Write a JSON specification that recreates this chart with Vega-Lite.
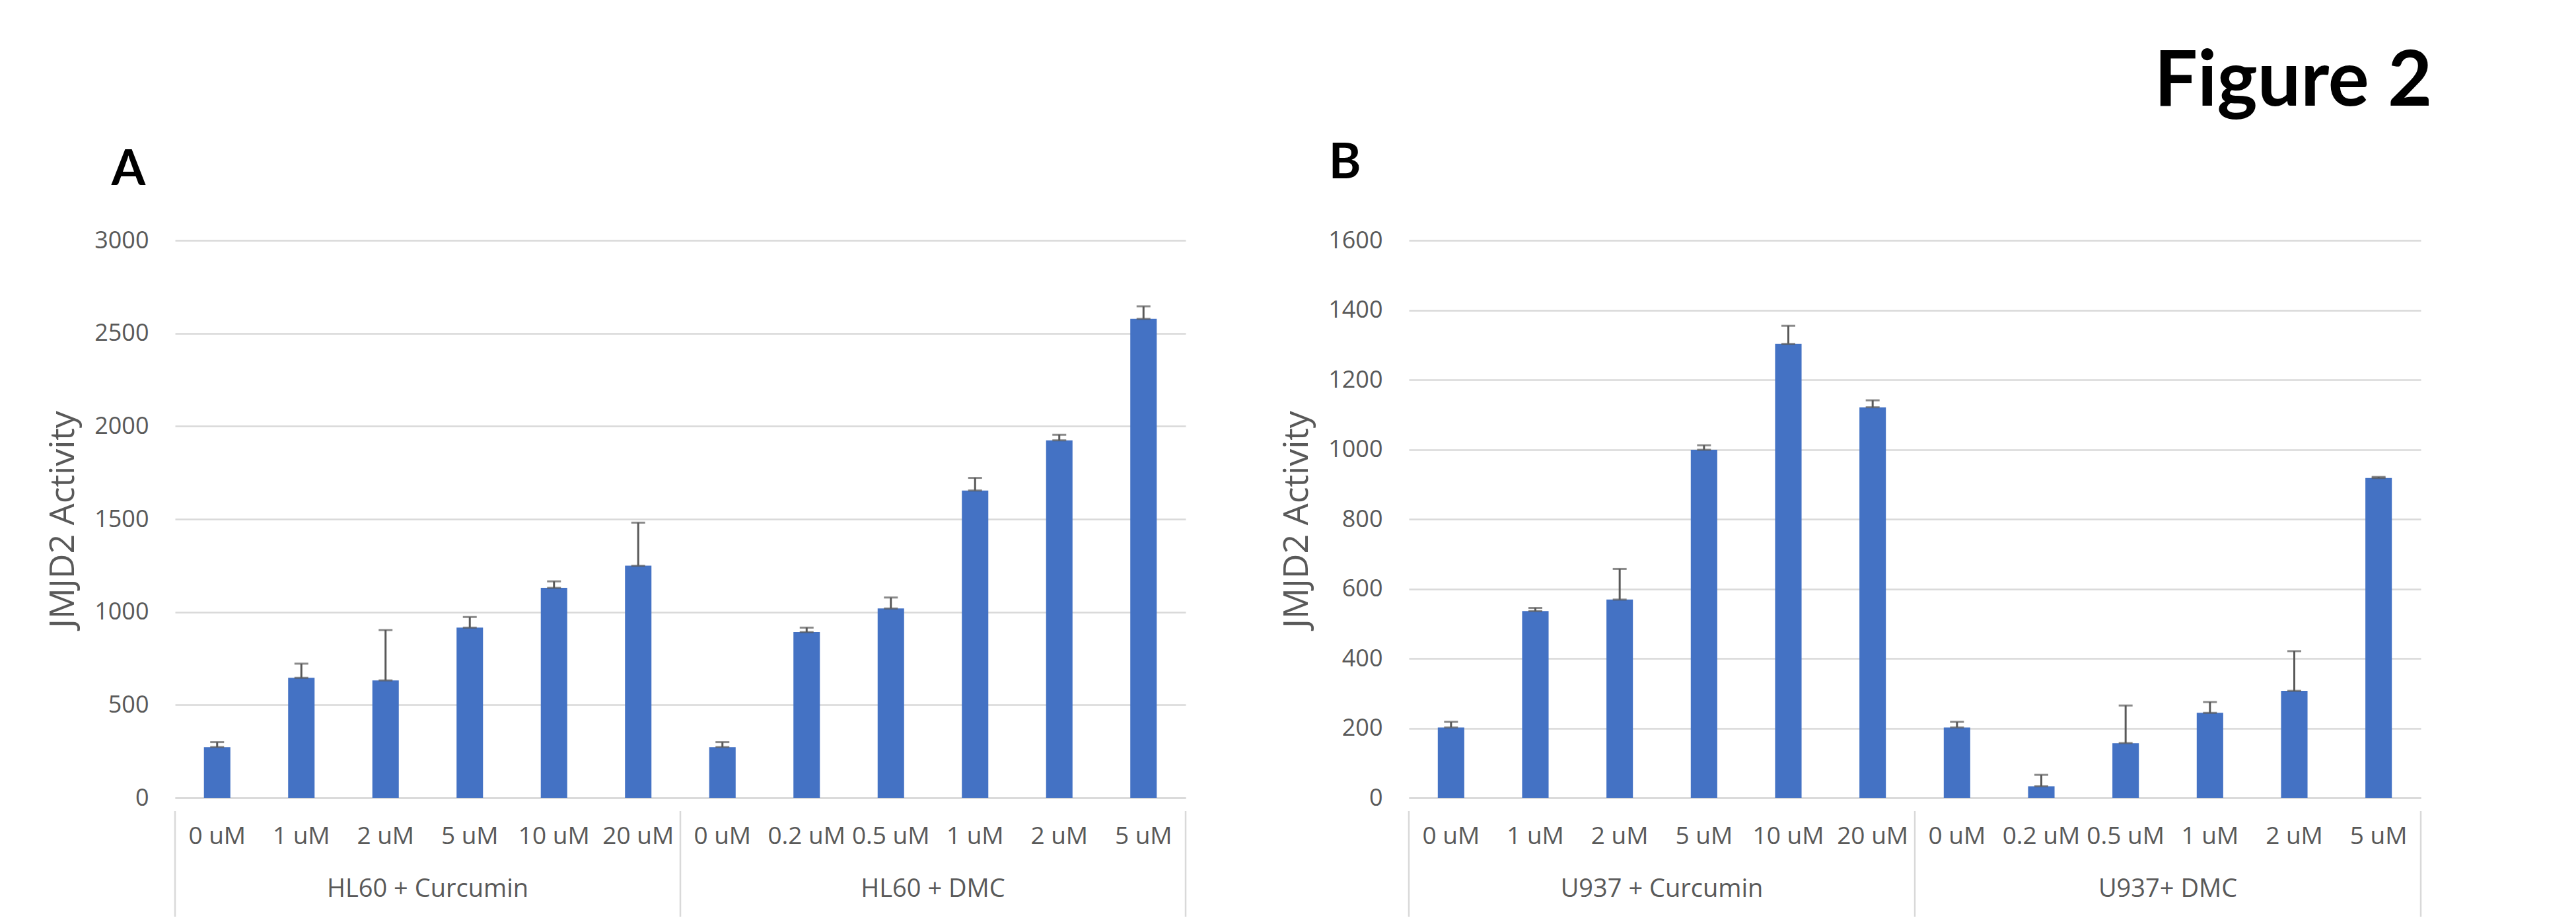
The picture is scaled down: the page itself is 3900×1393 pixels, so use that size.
{
  "$schema": "https://vega.github.io/schema/vega-lite/v6.json",
  "background": "white",
  "padding": {"left": 69, "top": 67, "right": 0, "bottom": 0},
  "title": {"text": "Figure 2", "anchor": "end", "frame": "bounds", "font": "Lato", "fontWeight": "bold", "fontSize": 116, "color": "#000000", "dx": 16, "offset": 27},
  "datasets": {
    "A": [
      {"group": "HL60 + Curcumin", "conc": "0 uM", "key": "HL60 + Curcumin|0 uM", "value": 273, "upper": 300},
      {"group": "HL60 + Curcumin", "conc": "1 uM", "key": "HL60 + Curcumin|1 uM", "value": 646, "upper": 722},
      {"group": "HL60 + Curcumin", "conc": "2 uM", "key": "HL60 + Curcumin|2 uM", "value": 632, "upper": 903},
      {"group": "HL60 + Curcumin", "conc": "5 uM", "key": "HL60 + Curcumin|5 uM", "value": 916, "upper": 973},
      {"group": "HL60 + Curcumin", "conc": "10 uM", "key": "HL60 + Curcumin|10 uM", "value": 1130, "upper": 1165},
      {"group": "HL60 + Curcumin", "conc": "20 uM", "key": "HL60 + Curcumin|20 uM", "value": 1249, "upper": 1481},
      {"group": "HL60 + DMC", "conc": "0 uM", "key": "HL60 + DMC|0 uM", "value": 273, "upper": 300},
      {"group": "HL60 + DMC", "conc": "0.2 uM", "key": "HL60 + DMC|0.2 uM", "value": 892, "upper": 916},
      {"group": "HL60 + DMC", "conc": "0.5 uM", "key": "HL60 + DMC|0.5 uM", "value": 1019, "upper": 1078},
      {"group": "HL60 + DMC", "conc": "1 uM", "key": "HL60 + DMC|1 uM", "value": 1654, "upper": 1722},
      {"group": "HL60 + DMC", "conc": "2 uM", "key": "HL60 + DMC|2 uM", "value": 1924, "upper": 1954},
      {"group": "HL60 + DMC", "conc": "5 uM", "key": "HL60 + DMC|5 uM", "value": 2578, "upper": 2645}
    ],
    "B": [
      {"group": "U937 + Curcumin", "conc": "0 uM", "key": "U937 + Curcumin|0 uM", "value": 202, "upper": 218},
      {"group": "U937 + Curcumin", "conc": "1 uM", "key": "U937 + Curcumin|1 uM", "value": 536, "upper": 545},
      {"group": "U937 + Curcumin", "conc": "2 uM", "key": "U937 + Curcumin|2 uM", "value": 569, "upper": 657},
      {"group": "U937 + Curcumin", "conc": "5 uM", "key": "U937 + Curcumin|5 uM", "value": 999, "upper": 1012},
      {"group": "U937 + Curcumin", "conc": "10 uM", "key": "U937 + Curcumin|10 uM", "value": 1303, "upper": 1355},
      {"group": "U937 + Curcumin", "conc": "20 uM", "key": "U937 + Curcumin|20 uM", "value": 1121, "upper": 1141},
      {"group": "U937+ DMC", "conc": "0 uM", "key": "U937+ DMC|0 uM", "value": 202, "upper": 218},
      {"group": "U937+ DMC", "conc": "0.2 uM", "key": "U937+ DMC|0.2 uM", "value": 33, "upper": 66},
      {"group": "U937+ DMC", "conc": "0.5 uM", "key": "U937+ DMC|0.5 uM", "value": 157, "upper": 265},
      {"group": "U937+ DMC", "conc": "1 uM", "key": "U937+ DMC|1 uM", "value": 244, "upper": 275},
      {"group": "U937+ DMC", "conc": "2 uM", "key": "U937+ DMC|2 uM", "value": 307, "upper": 421},
      {"group": "U937+ DMC", "conc": "5 uM", "key": "U937+ DMC|5 uM", "value": 918, "upper": 921}
    ],
    "gA": [
      {"group": "HL60 + Curcumin"},
      {"group": "HL60 + DMC"}
    ],
    "gB": [
      {"group": "U937 + Curcumin"},
      {"group": "U937+ DMC"}
    ]
  },
  "hconcat": [
    {
      "spacing": 0,
      "vconcat": [
        {
          "title": {"text": "A", "anchor": "start", "frame": "bounds", "font": "Lato", "fontWeight": "bold", "fontSize": 74, "color": "#000000", "dx": 99, "offset": 50},
          "width": 1530,
          "height": 844,
          "data": {"name": "A"},
          "encoding": {
            "x": {"field": "key", "type": "nominal", "sort": null, "scale": {"paddingInner": 0.686, "paddingOuter": 0.343}, "axis": {"labels": false, "ticks": false, "title": null, "domainColor": "#D9D9D9", "domainWidth": 2.5}}
          },
          "layer": [
            {
              "mark": {"type": "bar", "color": "#4472C4"},
              "encoding": {
                "y": {"field": "value", "type": "quantitative", "title": "JMJD2 Activity", "scale": {"domain": [0, 3000]}, "axis": {"values": [0, 500, 1000, 1500, 2000, 2500, 3000], "format": "d"}}
              }
            },
            {
              "mark": {"type": "rule", "color": "#595959", "strokeWidth": 3},
              "encoding": {
                "y": {"field": "value", "type": "quantitative", "title": "JMJD2 Activity"},
                "y2": {"field": "upper"}
              }
            },
            {
              "mark": {"type": "tick", "color": "#595959", "size": 21, "thickness": 3},
              "encoding": {"y": {"field": "upper", "type": "quantitative", "title": "JMJD2 Activity"}}
            },
            {
              "mark": {"type": "tick", "color": "#595959", "size": 21, "thickness": 3},
              "encoding": {"y": {"field": "value", "type": "quantitative", "title": "JMJD2 Activity"}}
            }
          ]
        },
        {
          "width": 1530,
          "height": 160,
          "layer": [
            {
              "data": {"name": "A"},
              "mark": {"type": "text", "font": "Open Sans", "fontSize": 37, "color": "#595959", "dy": -1},
              "encoding": {
                "x": {"field": "key", "type": "nominal", "sort": null, "scale": {"paddingInner": 0.686, "paddingOuter": 0.343}, "axis": null},
                "y": {"datum": "dose", "type": "nominal", "scale": {"domain": ["dose", "treatment"]}, "axis": null},
                "text": {"field": "conc"}
              }
            },
            {
              "data": {"name": "gA"},
              "mark": {"type": "text", "font": "Open Sans", "fontSize": 38, "color": "#595959", "dy": -1},
              "encoding": {
                "x": {"field": "group", "type": "nominal", "sort": null, "scale": {"type": "band", "paddingInner": 0, "paddingOuter": 0}, "axis": null},
                "y": {"datum": "treatment", "type": "nominal", "axis": null},
                "text": {"field": "group"}
              }
            },
            {
              "data": {"name": "gA"},
              "mark": {"type": "rule", "color": "#D9D9D9", "strokeWidth": 2.5},
              "encoding": {
                "x": {"field": "group", "type": "nominal", "sort": null, "bandPosition": 0, "scale": {"type": "band", "paddingInner": 0, "paddingOuter": 0}, "axis": null}
              }
            },
            {
              "data": {"name": "gA"},
              "transform": [{"filter": {"field": "group", "equal": "HL60 + DMC"}}],
              "mark": {"type": "rule", "color": "#D9D9D9", "strokeWidth": 2.5},
              "encoding": {
                "x": {"field": "group", "type": "nominal", "bandPosition": 1, "scale": {"type": "band", "domain": ["HL60 + Curcumin", "HL60 + DMC"], "paddingInner": 0, "paddingOuter": 0}, "axis": null}
              }
            }
          ],
          "resolve": {"scale": {"x": "independent"}}
        }
      ]
    },
    {
      "spacing": 0,
      "vconcat": [
        {
          "title": {"text": "B", "anchor": "start", "frame": "bounds", "font": "Lato", "fontWeight": "bold", "fontSize": 74, "color": "#000000", "dx": 74, "offset": 60},
          "width": 1532,
          "height": 844,
          "data": {"name": "B"},
          "encoding": {
            "x": {"field": "key", "type": "nominal", "sort": null, "scale": {"paddingInner": 0.686, "paddingOuter": 0.343}, "axis": {"labels": false, "ticks": false, "title": null, "domainColor": "#D9D9D9", "domainWidth": 2.5}}
          },
          "layer": [
            {
              "mark": {"type": "bar", "color": "#4472C4"},
              "encoding": {
                "y": {"field": "value", "type": "quantitative", "title": "JMJD2 Activity", "scale": {"domain": [0, 1600]}, "axis": {"values": [0, 200, 400, 600, 800, 1000, 1200, 1400, 1600], "format": "d"}}
              }
            },
            {
              "mark": {"type": "rule", "color": "#595959", "strokeWidth": 3},
              "encoding": {
                "y": {"field": "value", "type": "quantitative", "title": "JMJD2 Activity"},
                "y2": {"field": "upper"}
              }
            },
            {
              "mark": {"type": "tick", "color": "#595959", "size": 21, "thickness": 3},
              "encoding": {"y": {"field": "upper", "type": "quantitative", "title": "JMJD2 Activity"}}
            },
            {
              "mark": {"type": "tick", "color": "#595959", "size": 21, "thickness": 3},
              "encoding": {"y": {"field": "value", "type": "quantitative", "title": "JMJD2 Activity"}}
            }
          ]
        },
        {
          "width": 1532,
          "height": 160,
          "layer": [
            {
              "data": {"name": "B"},
              "mark": {"type": "text", "font": "Open Sans", "fontSize": 37, "color": "#595959", "dy": -1},
              "encoding": {
                "x": {"field": "key", "type": "nominal", "sort": null, "scale": {"paddingInner": 0.686, "paddingOuter": 0.343}, "axis": null},
                "y": {"datum": "dose", "type": "nominal", "scale": {"domain": ["dose", "treatment"]}, "axis": null},
                "text": {"field": "conc"}
              }
            },
            {
              "data": {"name": "gB"},
              "mark": {"type": "text", "font": "Open Sans", "fontSize": 38, "color": "#595959", "dy": -1},
              "encoding": {
                "x": {"field": "group", "type": "nominal", "sort": null, "scale": {"type": "band", "paddingInner": 0, "paddingOuter": 0}, "axis": null},
                "y": {"datum": "treatment", "type": "nominal", "axis": null},
                "text": {"field": "group"}
              }
            },
            {
              "data": {"name": "gB"},
              "mark": {"type": "rule", "color": "#D9D9D9", "strokeWidth": 2.5},
              "encoding": {
                "x": {"field": "group", "type": "nominal", "sort": null, "bandPosition": 0, "scale": {"type": "band", "paddingInner": 0, "paddingOuter": 0}, "axis": null}
              }
            },
            {
              "data": {"name": "gB"},
              "transform": [{"filter": {"field": "group", "equal": "U937+ DMC"}}],
              "mark": {"type": "rule", "color": "#D9D9D9", "strokeWidth": 2.5},
              "encoding": {
                "x": {"field": "group", "type": "nominal", "bandPosition": 1, "scale": {"type": "band", "domain": ["U937 + Curcumin", "U937+ DMC"], "paddingInner": 0, "paddingOuter": 0}, "axis": null}
              }
            }
          ],
          "resolve": {"scale": {"x": "independent"}}
        }
      ]
    }
  ],
  "spacing": 140,
  "config": {
    "view": {"stroke": null},
    "axis": {"labelFont": "Open Sans", "titleFont": "Open Sans", "labelColor": "#595959", "titleColor": "#595959", "gridColor": "#D9D9D9", "gridWidth": 2.5},
    "axisY": {"domain": false, "ticks": false, "tickSize": 0, "labelPadding": 40, "labelFontSize": 36, "titleFontSize": 52, "titleFontWeight": "normal", "titlePadding": 20, "grid": true},
    "axisX": {"grid": false}
  }
}
